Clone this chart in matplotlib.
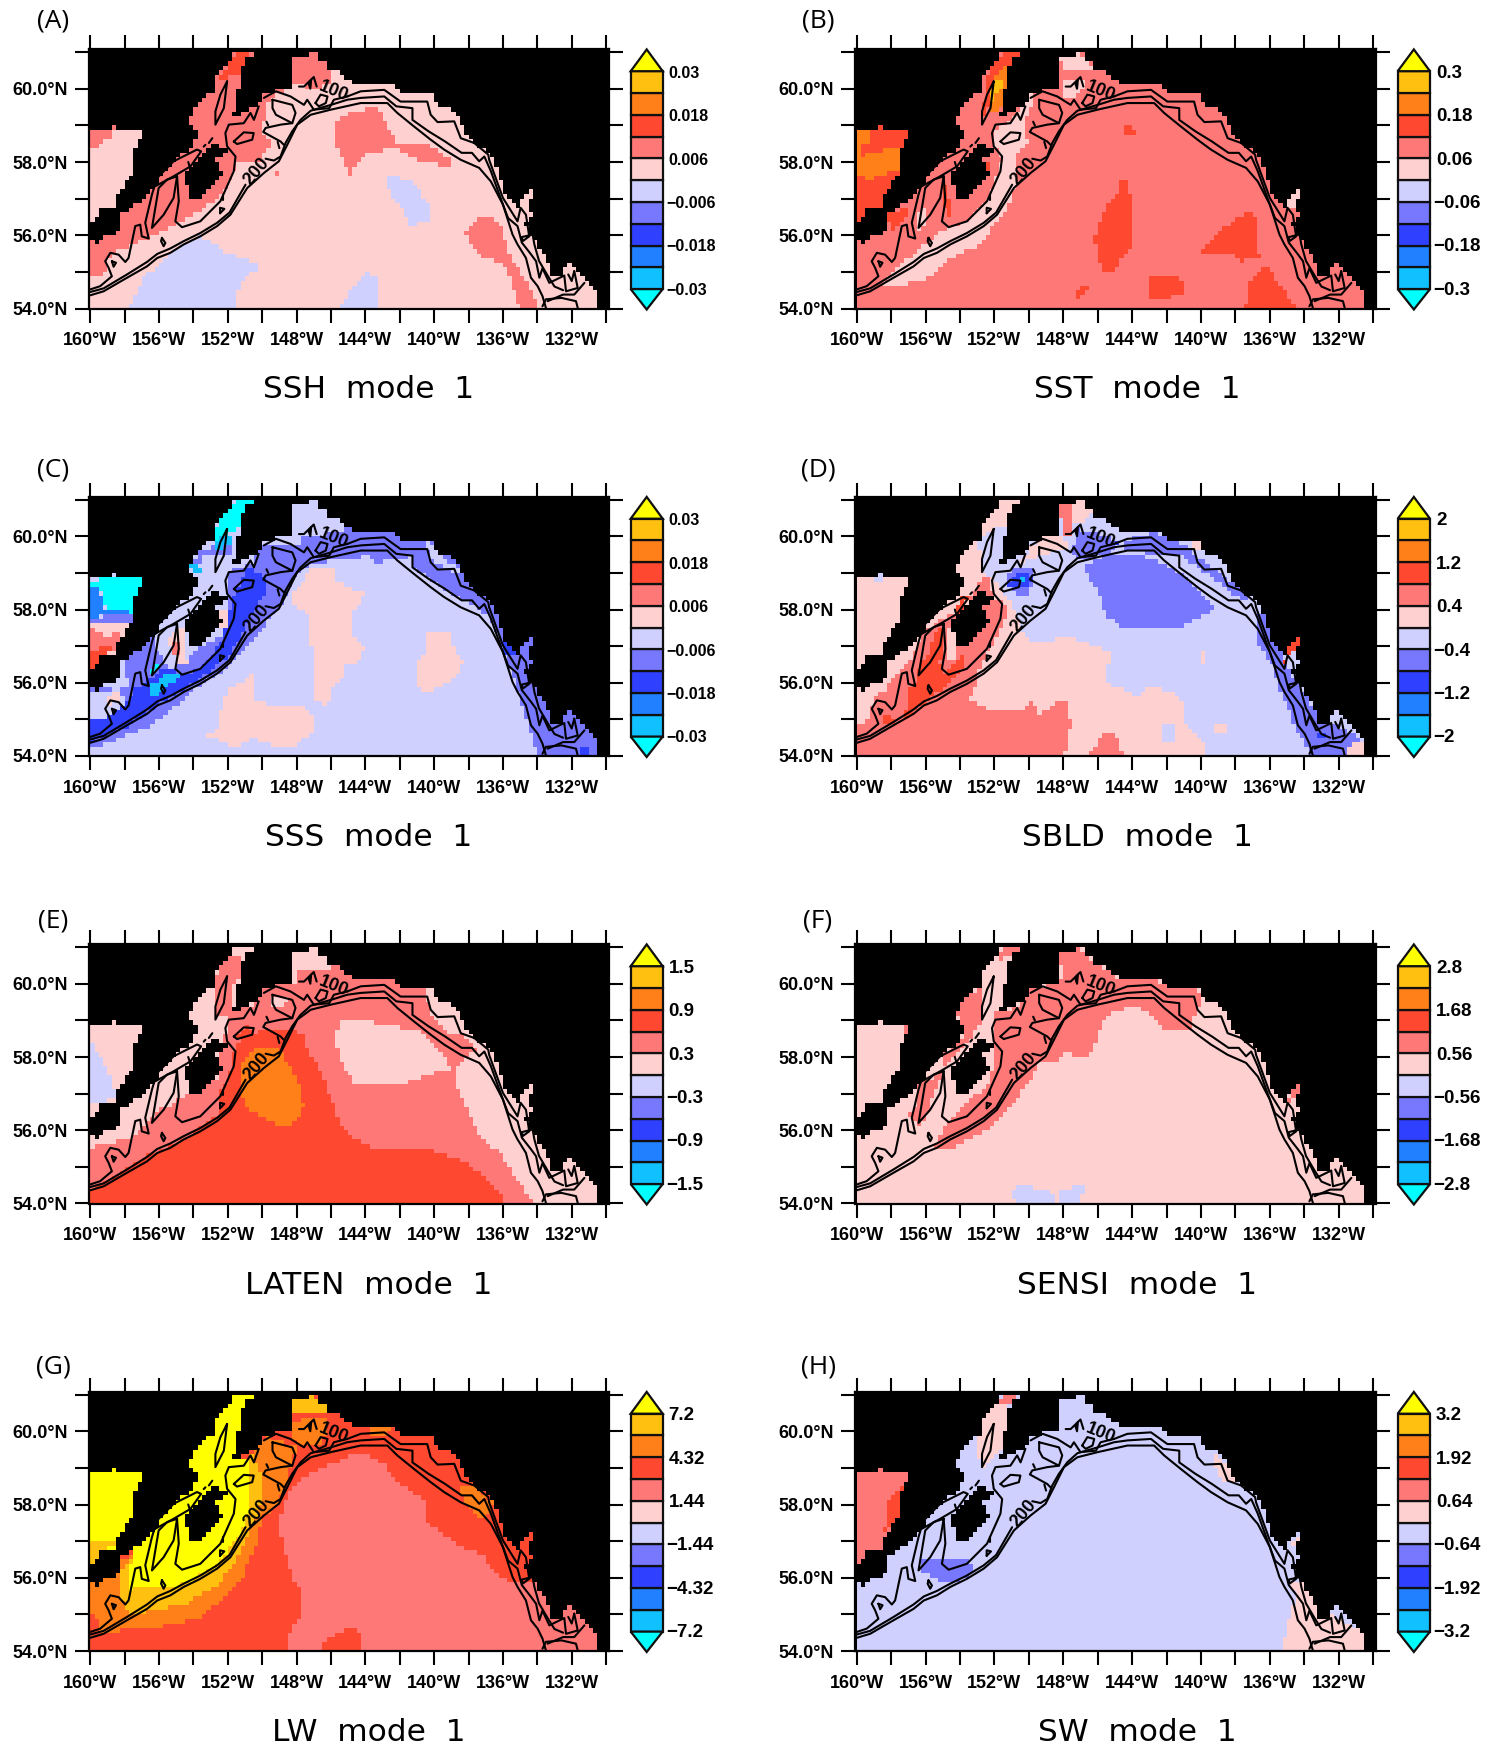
import numpy as np
import matplotlib
matplotlib.use("Agg")
import matplotlib.pyplot as plt
from matplotlib.colors import ListedColormap, BoundaryNorm
from matplotlib.path import Path

W, H = 1502, 1750
COLORS = ['#00ffff', '#10c0ff', '#2080ff', '#3040ff', '#7878ff', '#d0d0ff',
          '#ffd0d0', '#ff7878', '#ff4830', '#ff8018', '#ffc010', '#ffff00']
TICK_LON = [-160, -156, -152, -148, -144, -140, -136, -132]
TICK_LAT = [54, 56, 58, 60]

# ---------- geography (lon, lat) ----------
OCEAN_BRISTOL = [(-160, 58.85), (-158.83, 58.85), (-158.64, 58.97), (-158.35, 58.85), (-156.9, 58.85), (-157.28, 58.56),
                 (-157.48, 58.29), (-157.48, 57.75), (-157.96, 57.38), (-158.45, 57.02), (-158.54, 56.79), (-159.5, 56.7),
                 (-159.5, 56.47), (-160, 56.38)]
OCEAN_MAIN = [(-160, 55.84), (-159.42, 55.79), (-159.13, 55.97), (-158.25, 56.1), (-158.25, 56.56), (-157.09, 56.93),
              (-156.5, 57.1), (-156.2, 57.38), (-155.15, 58.02), (-154.08, 58.38), (-153.7, 58.8), (-154.27, 59.15),
              (-153.7, 59.65), (-152.8, 59.93), (-152.6, 60.38), (-151.85, 60.8), (-151.55, 61), (-150.4, 61),
              (-151.07, 60.8), (-151.26, 60.2), (-151.55, 59.84), (-151.55, 59.43), (-152.04, 59.25), (-150.87, 59.34),
              (-150.1, 59.65), (-149.9, 59.88), (-148.15, 60.06), (-148.15, 60.25), (-148.37, 60.61), (-148.37, 60.93),
              (-147.5, 60.9), (-146.93, 61), (-146.74, 60.84), (-146.15, 60.61), (-146.35, 60.43), (-145.6, 60.55),
              (-145.4, 60.34), (-144.66, 60.2), (-144.4, 60.06), (-143.7, 60.15), (-142.4, 60.1), (-141.95, 59.88),
              (-140, 59.84), (-139.8, 59.56), (-138.8, 59.38), (-138.35, 59.02), (-138.05, 58.65), (-136.8, 58.2),
              (-136.5, 58.06), (-135.9, 57.2), (-135.05, 56.75), (-135.05, 56.93), (-134.27, 57.25), (-134.27, 57.06),
              (-134.66, 56.88), (-134.35, 56.56), (-134.75, 56.34), (-134.35, 55.93), (-134, 55.75), (-133.4, 55.29),
              (-133.3, 54.93), (-132.6, 54.93), (-132.3, 55.25), (-131.4, 54.93), (-131, 54.7), (-130.55, 54.43),
              (-130.55, 54), (-160, 54)]
KODIAK = [(-154.6, 57.56), (-153.6, 58.15), (-152.72, 58.52), (-151.85, 58.27), (-152.7, 58.06), (-152.3, 57.7),
          (-152.9, 57.3), (-154.05, 56.88), (-154.3, 57.25)]
BRISTOL = [(-160, 56.2), (-160, 59.1), (-156.8, 59.1), (-156.8, 58.5), (-158, 56.9), (-159, 56.3)]
DIVIDE = [(-156, 61), (-156.5, 58), (-157.7, 57), (-159, 56.3), (-160, 56.1)]

CONTOURS = [
    [(-160, 54.36), (-159.22, 54.47), (-157.86, 54.84), (-156.7, 55.15), (-156.1, 55.38), (-155.34, 55.52), (-154.56, 55.75),
     (-153.6, 55.97), (-152.62, 56.25), (-151.85, 56.56), (-150.87, 57.29), (-149.9, 57.7), (-149.03, 58.02), (-148.54, 58.47),
     (-147.96, 59.02), (-147.18, 59.29), (-146, 59.43), (-144.27, 59.61), (-142.72, 59.61), (-142.14, 59.34), (-141.17, 58.97),
     (-140.2, 58.61), (-139.42, 58.34), (-138.45, 58.06), (-137.38, 57.84), (-136.7, 57.47), (-136, 56.84), (-135.44, 56.02),
     (-135.15, 55.75), (-134.66, 55.38), (-134.37, 54.84), (-133.98, 54.61), (-133.7, 54.34), (-133.5, 54.02)],
    [(-160, 54.45), (-159.22, 54.55), (-157.86, 54.93), (-156.7, 55.27), (-156.1, 55.49), (-155.34, 55.64), (-154.56, 55.84),
     (-153.6, 56.06), (-152.62, 56.34), (-151.9, 56.62), (-150.97, 57.38)],
    [(-149.8, 58.09), (-149.32, 58.04), (-148.93, 58.15), (-148.64, 58.52), (-148.25, 58.84), (-147.77, 59.15), (-147.18, 59.4),
     (-146, 59.56), (-145.05, 59.7), (-144.27, 59.75), (-142.9, 59.79), (-142.2, 59.52), (-141.26, 59.47), (-141.26, 59.15),
     (-140.33, 58.84), (-139.36, 58.56), (-138.4, 58.25), (-137.8, 58.25), (-137.38, 58.02), (-137.08, 58.15), (-136.7, 57.75),
     (-136.1, 56.97), (-135.7, 56.47), (-135.15, 56.25), (-134.9, 55.8), (-134.4, 55.5), (-134.07, 55.29), (-133.88, 54.84),
     (-133.7, 55.1), (-133.5, 54.9), (-133.3, 54.7), (-132.43, 54.9), (-132.33, 54.47), (-131.65, 54.56), (-131.85, 55.02)],
    [(-145.05, 59.79), (-144.27, 59.93), (-142.9, 59.97), (-141.95, 59.65), (-140.4, 59.65), (-140.2, 59.29), (-139.8, 59.09),
     (-138.83, 59.11), (-138.45, 58.65), (-137.67, 58.52), (-136.85, 58.2), (-136.8, 58.06), (-136, 57.02), (-135.15, 56.38),
     (-134.97, 56.75), (-134.66, 56.56), (-134.47, 55.97), (-134.85, 55.84), (-134.9, 55.95), (-134.27, 56.02), (-134.17, 55.75),
     (-133.9, 55.3), (-133.4, 54.9), (-133, 54.6), (-132.5, 54.5)],
    [(-160, 54.52), (-159.42, 54.61), (-158.74, 54.88), (-158.93, 55.11), (-159.13, 55.29), (-158.83, 55.52), (-158.35, 55.47),
     (-157.96, 55.27), (-157.77, 55.38), (-157.38, 56.25), (-157.09, 56.29), (-157, 55.97), (-156.6, 55.91), (-156.8, 56.34),
     (-156.41, 57.11), (-156.12, 57.56), (-155.15, 58.02), (-153.79, 58.34), (-153.55, 58.29), (-154.17, 57.88), (-155.15, 57.61),
     (-156.21, 57.34)],
    [(-154.95, 57.61), (-155.53, 57.52), (-156.02, 57.29), (-156.41, 56.2), (-155.73, 56.56), (-155.15, 57.02), (-154.95, 57.61)],
    [(-154.95, 57.61), (-154.85, 56.93), (-155.05, 56.38), (-154.66, 56.22), (-153.6, 56.38), (-152.43, 56.93), (-151.65, 57.75),
     (-151.55, 58.15), (-152.04, 58.43), (-152.14, 58.79), (-151.94, 59.02), (-151.07, 59.06), (-150.68, 59.34), (-150.48, 59.15),
     (-150.2, 59.52)],
    [(-149.9, 59.75), (-149.2, 59.93), (-148.35, 59.79), (-147.57, 59.56), (-147.38, 59.7), (-147, 59.43), (-146.1, 59.47),
     (-145.83, 59.7), (-145.05, 59.79)],
    [(-149.4, 59.7), (-148.25, 59.56), (-148.06, 59.34), (-148.25, 59.06), (-149.2, 59.29), (-149.4, 59.47), (-149.4, 59.7)],
    [(-148.25, 59.06), (-148.93, 59.02), (-149.8, 58.93), (-149.94, 58.82), (-148.93, 58.56), (-148.74, 58.47)],
    [(-151.65, 58.56), (-151.07, 58.81), (-150.49, 58.79), (-150.58, 58.61), (-151.46, 58.49), (-151.65, 58.56)],
    [(-152.04, 60.2), (-152.43, 59.84), (-152.72, 59.38), (-152.72, 59.02), (-152.23, 59.47), (-152.04, 60.2)],
    [(-146.9, 59.61), (-146.6, 59.84), (-146.2, 59.79), (-146.3, 59.61), (-146.7, 59.52), (-146.9, 59.61)],
    [(-155.83, 55.93), (-155.63, 55.79), (-155.73, 55.7), (-155.88, 55.84), (-155.83, 55.93)],
    [(-158.74, 55.29), (-158.5, 55.25), (-158.64, 55.14), (-158.74, 55.29)],
    [(-147.86, 60.06), (-147.57, 60.06), (-147, 60.32), (-146.83, 60.06)],
    [(-147.3, 60.15), (-147.15, 60.25), (-147.2, 60.0), (-147.3, 60.15)],
    [(-153.1, 58.52), (-152.9, 58.65)], [(-153.4, 58.42), (-153.3, 58.47)], [(-152.27, 57.1), (-152.27, 56.97)],
    [(-149.1, 58.55), (-149, 58.38)], [(-152.45, 56.6), (-152.2, 56.72), (-152.45, 56.75), (-152.45, 56.6)],
    [(-154.3, 58.0), (-154.2, 57.85)], [(-149.75, 59.1), (-149.65, 59.0)],
    [(-133.7, 54.06), (-133.5, 54.25), (-132.6, 54.29), (-131.75, 54.2), (-131.65, 54.02)],
    [(-133.4, 54.2), (-132.5, 54.38), (-131.85, 54.38), (-131.26, 54.7)],
    [(-132.2, 54.93), (-132, 54.75), (-131.85, 55.02)],
]
CONTOUR_LABELS = [('100', -145.86, 59.93, -22), ('200', -150.33, 57.75, 50)]

# ---------- fields: base level and painted (level, region) ----------
A_SHAPES = [
    (5, [(-157.8, 54), (-156.95, 54.8), (-155.3, 55.52), (-153.5, 55.97), (-152.2, 55.56), (-150, 55.15), (-150.8, 54.93), (-151.55, 54.43), (-151.5, 54)]),
    (5, [(-145.55, 54), (-144.7, 54.6), (-144, 54.97), (-143.33, 54.88), (-143.33, 54)]),
    (5, [(-142.78, 57.65), (-141.4, 57.47), (-140.15, 56.8), (-140.3, 56.43), (-141.4, 56.25), (-141.95, 56.8), (-142.7, 57.25)]),
    (7, [(-160, 54.87), (-159.27, 54.87), (-158.79, 55.5), (-156.96, 55.87), (-156.38, 55.96), (-155.03, 56.28), (-154.07, 56.55), (-152.72, 56.96),
         (-151.75, 57.51), (-151.5, 57.95), (-150.2, 57.96), (-149.44, 58.51), (-150.02, 58.79), (-149.83, 59.24), (-149.63, 59.65), (-148.3, 60.15),
         (-146.74, 59.97), (-146, 60.2), (-146, 61)] + DIVIDE),
    (6, [(-149.45, 59.7), (-148.2, 59.7), (-148.1, 59.05), (-148.9, 59.1), (-149.4, 59.3)]),
    (8, [(-152.7, 60.06), (-152.14, 60.52), (-151.56, 60.98), (-150.6, 61), (-151.1, 60.66), (-151.3, 60.4), (-152.1, 60.3)]),
    (7, [(-160, 58.3), (-159.2, 58.55), (-158.7, 58.75), (-158.5, 59.1), (-160, 59.1)]),
    (7, [(-145.83, 59.06), (-145.83, 58.6), (-144.86, 57.65), (-144.44, 57.97), (-143.9, 58.25), (-142.2, 58.38), (-140.9, 58.06), (-139.03, 57.84),
         (-139.03, 58.06), (-140.28, 58.47), (-142.2, 58.56), (-143.33, 59.52), (-145.28, 59.29)]),
    (7, [(-149.3, 57.75), (-148.9, 57.75), (-149, 57.55)]),
    (7, [(-138.2, 56.15), (-137.5, 56.5), (-136.67, 56.56), (-136.1, 56.25), (-135.7, 55.52), (-134.7, 54.8), (-133.9, 54), (-135, 54), (-135.83, 55.15), (-137.5, 55.52), (-138, 55.8)]),
    (7, [(-140, 60), (-139.6, 60), (-137.6, 58.9), (-137.9, 58.85), (-139, 59.55), (-140, 59.75)]),
    (7, [(-137.1, 58.5), (-136.3, 58.4), (-136.3, 58), (-136.7, 58.3)]),
    (7, [(-135.8, 57.1), (-135.3, 57.15), (-135, 56.75), (-135.4, 56.9)]),
]
B_SHAPES = [
    (6, [(-158.64, 54.61), (-157.67, 54.61), (-155.73, 54.84), (-154.85, 55.29), (-152.82, 55.75), (-152.04, 56.25), (-151.26, 56.75), (-150.78, 57.38),
         (-150.74, 58.11), (-150.1, 58.56), (-150.3, 59.11), (-149.6, 59.65), (-149.9, 59.84), (-150.68, 59.34), (-151.46, 59.02), (-152.04, 58.75),
         (-151.85, 58.34), (-151.55, 58.11), (-152.23, 57.02), (-153.6, 56.38), (-154.75, 56.22), (-155.73, 55.84), (-157, 55.38), (-157.86, 55.02)]),
    (6, [(-156.5, 56.15), (-156.4, 56.65), (-155.9, 56.75), (-156.2, 56.05)]),
    (6, [(-148.35, 60.93), (-147, 60.97), (-146.2, 60.6), (-146.8, 60.43), (-148, 60.56)]),
    (6, [(-148, 60.25), (-146.8, 60.29), (-146.8, 60), (-147.8, 59.65), (-148.05, 60)]),
    (6, [(-135, 56.93), (-134.3, 57.25), (-134.3, 57.06), (-134.8, 56.56)]),
    (8, BRISTOL),
    (9, [(-160, 58.85), (-159.2, 58.85), (-159.2, 58.56), (-159.8, 58.43), (-159.8, 58.15), (-158.05, 58.38), (-157.48, 58.29), (-157.48, 57.75), (-158.45, 57.66), (-159.2, 57.52), (-160, 57.66)]),
    (8, [(-152.55, 60.3), (-151.85, 60.8), (-151.45, 61), (-150.4, 61), (-151.1, 60.7), (-151.3, 60.2), (-152, 60), (-152.4, 59.4), (-152.7, 59.15), (-152.6, 59.8)]),
    (9, [(-152.04, 60.29), (-151.26, 60.65), (-151.26, 60.2), (-151.55, 59.47), (-152.23, 59.38), (-152.04, 60)]),
    (10, [(-152.2, 59.93), (-151.85, 60.29), (-151.36, 60.2), (-151.85, 59.84), (-152.13, 59.65)]),
    (8, [(-158.25, 56.56), (-157.1, 56.74), (-157.1, 56.45), (-158, 56.1)]),
    (8, [(-155, 57), (-154.75, 56.45), (-154.35, 56.45), (-154.85, 57.5)]),
    (8, [(-152.7, 58.02), (-152.1, 58.02), (-152.3, 57.7), (-152.7, 57.84)]),
    (8, [(-144.47, 57.75), (-144.27, 57.29), (-143.88, 56.84), (-143.88, 55.84), (-144.85, 55.2), (-145.24, 54.97), (-145.82, 54.97), (-146, 55.75), (-146.2, 55.84), (-145.9, 56.29), (-145.5, 56.84), (-144.85, 57.2)]),
    (8, [(-139.9, 55.56), (-139.03, 56.1), (-137.3, 56.65), (-136.8, 56.47), (-136.6, 55.38), (-137.67, 55.29), (-138.45, 55.56)]),
    (8, [(-143.1, 54.65), (-142.9, 54.93), (-141.17, 54.88), (-140.97, 54.47), (-141.75, 54.29), (-143, 54.29)]),
    (8, [(-137.4, 54), (-137.1, 54.84), (-136.1, 55.15), (-135.15, 54.47), (-134.4, 54)]),
    (8, [(-147.57, 54.2), (-146.74, 54.65), (-146.3, 54.65), (-146.74, 54.38), (-147.3, 54.2)]),
    (8, [(-144.66, 59.02), (-144.08, 59.02), (-143.7, 58.7), (-144.37, 58.7)]),
]
C_SHAPES = [
    (6, [(-147.07, 59.15), (-145.8, 59.15), (-145.8, 58.79), (-144.06, 58.43), (-144.74, 57.84), (-144.74, 57.29), (-144.06, 56.97), (-144.54, 56.52), (-145.13, 56.47), (-145.13, 56.15),
         (-145.8, 56.02), (-146.2, 55.38), (-146.87, 55.52), (-147.07, 55.93), (-146.97, 56.65), (-147.36, 57.38), (-147.36, 57.84), (-148.23, 58.2), (-148.43, 58.25)]),
    (6, [(-140.47, 57.43), (-139, 57.38), (-138.8, 56.84), (-138.33, 56.56), (-138.43, 56.29), (-139.7, 55.84), (-140.86, 55.75), (-140.95, 56.56), (-140.56, 56.84)]),
    (6, [(-153.57, 54.52), (-152.5, 54.75), (-152.6, 55.02), (-151.92, 55.84), (-150.56, 56.22), (-150.56, 55.56), (-149.4, 55.38), (-147.65, 55.34), (-146.87, 54.93), (-147.07, 54.65),
         (-148.43, 54.2), (-150.17, 54.38), (-150.66, 54.56), (-150.95, 54.38), (-151.73, 54.2), (-152.5, 54.47)]),
    (4, [(-160, 54.2), (-158.9, 54.38), (-157.75, 54.61), (-156.4, 54.84), (-155.2, 55.29), (-153.9, 55.84), (-152.5, 56.25), (-151.53, 56.65), (-150.2, 57.38), (-148.8, 58.15), (-148.2, 58.84),
         (-147.6, 59.15), (-146.1, 59.34), (-143.77, 59.47), (-143.4, 59.29), (-142.6, 59.34), (-141.26, 59.47), (-141.26, 59.15), (-139.4, 58.56), (-137.4, 58.02), (-136.7, 57.75), (-136.1, 57),
         (-135.7, 56.47), (-135, 55.6), (-134.5, 54.8), (-134, 54), (-130, 54), (-130, 61), (-145, 61), (-145.2, 60.2), (-146.6, 60), (-147.6, 60), (-148, 59.7), (-149.8, 59.8), (-150.6, 59.3),
         (-151.9, 59), (-151.9, 58.38), (-152.3, 57.29), (-153.87, 56.93), (-154.45, 56.56), (-155.4, 56.38), (-156.2, 56.93), (-156.4, 57.38), (-157.36, 56.84), (-158.1, 56.47), (-157.75, 55.93), (-159.1, 55.84), (-160, 55.84)]),
    (5, [(-160, 55.75), (-158.3, 55.84), (-157.95, 55.38), (-158.9, 55.02), (-160, 55.02)]),
    (6, [(-159, 55.57), (-158.2, 55.84), (-158.3, 55.57), (-158.9, 55.43)]),
    (3, [(-160, 55.02), (-159.1, 55.02), (-158.14, 55.38), (-157.36, 55.84), (-156.6, 56.1), (-155.8, 56.38), (-154.45, 56.25), (-153.28, 56.47), (-152.2, 57.29), (-151.73, 58.29), (-150.95, 59.1),
         (-150, 59.02), (-149.7, 58.56), (-150.36, 58.06), (-151.14, 57.38), (-151.9, 56.75), (-153.1, 56.3), (-154.45, 55.84), (-156.4, 55.29), (-157.75, 54.84), (-159.1, 54.52), (-160, 54.38)]),
    (1, [(-156.6, 55.84), (-155.6, 56.3), (-154.45, 56.3), (-155.2, 56.02), (-156.4, 55.56)]),
    (0, [(-156.4, 56.3), (-156.1, 56.5), (-156.2, 56.2)]),
    (0, [(-160, 58.75), (-156.87, 59.1), (-157.36, 58.29), (-157.45, 57.93), (-159.1, 58), (-159.2, 58.38), (-159.7, 58.6), (-160, 58.6)]),
    (2, [(-160, 58.6), (-159.5, 58.56), (-159.1, 58), (-157.45, 57.93), (-157.45, 57.8), (-159.3, 57.84), (-160, 57.75)]),
    (4, [(-160, 57.8), (-157.3, 57.85), (-157.3, 57.55), (-160, 57.55)]),
    (6, [(-160, 57.6), (-157.6, 57.65), (-158, 57.2), (-158.5, 56.7), (-160, 56.3)]),
    (7, [(-160, 57.5), (-159.1, 57.25), (-158.1, 57.4), (-158.6, 56.9), (-159.3, 56.7), (-160, 56.3)]),
    (8, [(-160, 56.9), (-158.7, 57), (-159.3, 56.7), (-159.7, 56.4), (-160, 56.3)]),
    (0, [(-152.6, 60.29), (-151.92, 60.75), (-151.34, 61), (-150.37, 61), (-151.15, 60.65), (-151.24, 60.29), (-152.2, 60.02), (-152.8, 59.84)]),
    (4, [(-153.67, 59.56), (-152.8, 59.75), (-151.63, 59.93), (-151.63, 59.52), (-152.5, 59.47), (-153.5, 59.47), (-153.77, 59), (-154.25, 59.15)]),
    (1, [(-152.9, 59.84), (-152.2, 60.02), (-151.6, 59.9), (-152.5, 59.6)]),
    (1, [(-154.25, 59.2), (-153.67, 59.25), (-153.57, 58.97), (-153.96, 59)]),
    (3, [(-136, 57.1), (-135.3, 57.1), (-135.3, 56.75), (-135.9, 56.75)]),
    (3, [(-131.6, 54.2), (-131, 54.2), (-131, 54), (-131.6, 54)]),
    (5, [(-140.47, 59.84), (-139.7, 59.75), (-139.7, 59.47), (-138.9, 59.25), (-138.33, 58.88), (-138.9, 59), (-140.1, 59.38), (-140.47, 59.65)]),
    (6, [(-152.6, 58.02), (-151.92, 58.02), (-152, 57.56), (-152.6, 57.56)]),
    (6, [(-155.5, 57.2), (-154.84, 57.56), (-154.55, 57.47), (-154.35, 56.56), (-155.03, 56.56)]),
    (7, [(-155.3, 57.1), (-154.74, 57.1), (-154.74, 56.75), (-155.13, 56.75)]),
]
D_SHAPES = [
    (6, [(-160, 54), (-139.7, 54), (-139.9, 54.43), (-140.97, 54.93), (-141.17, 55.65), (-143.1, 55.93), (-143.7, 55.65), (-145.63, 56.02), (-145.24, 56.84), (-147.57, 57.25), (-149.9, 57.1),
         (-150.3, 57.34), (-150.87, 58.02), (-151.84, 58.75), (-152.62, 58.93), (-152.23, 59.56), (-152.72, 60.02), (-152, 60.2), (-151.2, 60.3), (-150.4, 61), (-160, 61)]),
    (5, [(-152.7, 60.02), (-151.75, 60.02), (-151.75, 59.52), (-152.3, 59.15), (-152.8, 59), (-152.9, 59.9)]),
    (5, [(-159, 59), (-158.45, 59), (-158.45, 58.75), (-159, 58.75)]),
    (7, [(-160, 54), (-147.96, 54), (-147.57, 54.84), (-147.86, 55.52), (-148.25, 55.56), (-149.4, 55.1), (-149.8, 55.52), (-150.3, 55.3), (-152.23, 55.25), (-153.5, 55.52), (-153.1, 55.93),
         (-153, 56.34), (-152.23, 56.93), (-151.26, 57.93), (-151.46, 58.29), (-152.04, 58.29), (-152.23, 58.84), (-152.7, 58.88), (-153.7, 58.06), (-154.95, 57.75), (-156.2, 57.38), (-156.7, 56.75),
         (-157.48, 56.3), (-157.86, 56.1), (-158.45, 55.75), (-159, 55.65), (-159.4, 54.93), (-160, 54.79)]),
    (6, [(-154.85, 57.47), (-154.3, 57.56), (-154.3, 56.6), (-154.85, 56.6)]),
    (6, [(-160, 55.9), (-158, 56), (-159, 55.5), (-159.6, 54.95), (-160, 54.8)]),
    (8, [(-158.45, 55.15), (-157.96, 55.2), (-157.86, 54.93), (-158.45, 54.88)]),
    (8, [(-157.19, 55.02), (-157, 55.84), (-156.6, 55.97), (-156.4, 56.38), (-155.73, 56.93), (-155.53, 57.38), (-155.05, 57.52), (-154.95, 56.75), (-155.15, 56.56), (-154.95, 56.25), (-153.98, 56.7),
         (-153.7, 56.75), (-153.77, 56.38), (-154.37, 56.1), (-154.75, 55.93), (-156, 55.47), (-157, 55.1)]),
    (8, [(-154, 58.34), (-153.6, 58.38), (-153.7, 57.93), (-154.08, 57.8), (-154.17, 58.06)]),
    (7, [(-148.35, 60.93), (-147.48, 60.84), (-147.38, 60.29), (-147.67, 59.97), (-147.96, 60.02), (-148.06, 60.47), (-148.35, 60.6)]),
    (6, [(-147.48, 60.97), (-146.6, 60.97), (-146.2, 60.65), (-147, 60.38), (-147.57, 60.29)]),
    (6, [(-149.8, 59.75), (-148.93, 60.02), (-147.96, 60.02), (-147.76, 59.7), (-150.4, 59.3)]),
    (6, [(-140.4, 59.84), (-139.8, 59.79), (-139.8, 59.6), (-140.4, 59.6)]),
    (6, [(-140.1, 56.84), (-139.7, 56.84), (-139.7, 56.52), (-140.1, 56.52)]),
    (6, [(-139.13, 54.84), (-138.54, 54.84), (-138.54, 54.65), (-139.13, 54.65)]),
    (5, [(-142.33, 54.93), (-141.46, 54.79), (-141.56, 54.34), (-142.33, 54.34)]),
    (7, [(-146.5, 54), (-145.63, 54.64), (-144.95, 54.64), (-144.56, 54)]),
    (4, [(-146.8, 59.15), (-145.73, 58.29), (-145.53, 57.84), (-144.66, 57.56), (-140.97, 57.56), (-139.22, 58.02), (-140.2, 58.56), (-141.26, 59.02), (-142.43, 59.29), (-144.08, 59.56), (-145.9, 59.43)]),
    (4, [(-144.4, 59.9), (-142.6, 60.1), (-141, 59.75), (-137.5, 58.5), (-137.1, 58.3), (-137.5, 58.2), (-140, 59.1), (-141.2, 59.5), (-144.4, 59.6)]),
    (4, [(-147.2, 60.2), (-146.4, 60.1), (-144.9, 59.9), (-145, 59.6), (-147, 59.35), (-147.5, 59.5)]),
    (3, [(-145.1, 59.9), (-144.7, 59.9), (-144.7, 59.8), (-145.1, 59.8)]),
    (4, [(-151.36, 58.84), (-150.87, 59.11), (-149.9, 59.2), (-149.7, 58.75), (-150.3, 58.29), (-150.87, 58.47)]),
    (3, [(-150.87, 58.93), (-150.1, 59.06), (-149.8, 58.84), (-150.3, 58.56), (-151.26, 58.61)]),
    (1, [(-150.4, 58.9), (-150.15, 58.9), (-150.15, 58.75), (-150.4, 58.75)]),
    (4, [(-136.9, 57.65), (-136.5, 57.93), (-135.5, 57.02), (-135.15, 56.56), (-134.27, 55.93), (-133.4, 55.2), (-130.68, 54.47), (-130.68, 54), (-133.6, 54), (-134.56, 54.84), (-135.34, 55.75), (-135.9, 56.47), (-136.7, 57.1)]),
    (3, [(-133.2, 54.6), (-132.7, 54.6), (-132.7, 54.45), (-133.2, 54.45)]),
    (6, [(-131.3, 54.33), (-130.55, 54.43), (-130.55, 54), (-131.5, 54)]),
    (8, [(-135.05, 56.93), (-134.27, 57.25), (-134.27, 57.06), (-134.85, 56.75), (-134.95, 56.56), (-135.15, 56.56)]),
]
E_SHAPES = [
    (7, [(-160, 54), (-160, 55.55), (-157.75, 55.75), (-156.3, 56.47), (-155.03, 56.75), (-154.45, 57), (-152.6, 57.38), (-152.5, 58.1), (-152.1, 58.65), (-151.9, 59.25), (-150.56, 59.38), (-149.8, 59.93),
         (-148.04, 60.06), (-147.84, 60.38), (-146.1, 60.38), (-145.8, 60.52), (-144.93, 60.2), (-143.77, 60.15), (-142.3, 60.06), (-140.47, 59.84), (-140.27, 59.2), (-139.3, 58.65), (-138.33, 58.65), (-137.55, 58.2),
         (-138.33, 57.88), (-138.72, 57.7), (-138.62, 57.11), (-138.04, 56.47), (-137.36, 55.84), (-136.2, 55.38), (-134.65, 54.29), (-134.2, 54)]),
    (6, [(-145.8, 58.65), (-145.33, 58.97), (-143.97, 59.06), (-143, 58.84), (-141.05, 58.79), (-139.9, 58.29), (-138.9, 57.65), (-140.08, 57.56), (-141.63, 57.29), (-144.54, 57.2), (-145.13, 57.65), (-145.5, 58.02)]),
    (6, [(-149.5, 59.65), (-148.43, 59.56), (-148.8, 59.38), (-149.3, 59.29)]),
    (8, [(-160, 54.38), (-158.9, 54.65), (-156.4, 55.38), (-154.5, 55.75), (-152.5, 56.47), (-152.5, 57.02), (-152.1, 57.2), (-151.73, 57.93), (-151.34, 58.47), (-150, 58.75), (-148.43, 58.75), (-147.55, 58.65),
         (-147.36, 58.2), (-146.87, 57.84), (-146, 56.93), (-145.6, 56.29), (-144.93, 55.84), (-143.57, 55.52), (-140.27, 55.47), (-138.72, 55.25), (-137.6, 54.93), (-136.1, 54.2), (-136.1, 54), (-160, 54)]),
    (8, [(-151.53, 58.56), (-150.95, 58.82), (-150.47, 58.79), (-150.56, 58.61), (-151.44, 58.49)]),
    (9, [(-151.15, 57.84), (-150.56, 58.2), (-149.2, 58.29), (-148.8, 58.02), (-148.5, 57.84), (-147.85, 57.2), (-147.55, 56.65), (-147.85, 56.38), (-148.43, 56.15), (-149, 56.15), (-150.17, 56.38), (-150.95, 56.65), (-151.34, 57.2)]),
    (5, [(-160, 58.38), (-159.5, 58.11), (-158.72, 57.38), (-158.52, 56.93), (-159.1, 56.75), (-160, 56.75)]),
    (7, [(-152.6, 60.29), (-152, 60.7), (-151.15, 60.75), (-151.15, 60.25), (-151.73, 59.93), (-151.73, 59.3), (-152.6, 59.02), (-152.8, 59.65)]),
]
F_SHAPES = [
    (7, [(-155.44, 55.56), (-154.17, 55.56), (-153.4, 55.79), (-152.23, 56.1), (-150.87, 56.75), (-149.9, 57.38), (-149.3, 57.93), (-148.35, 57.93), (-147.77, 58.15), (-147.38, 57.97), (-146.5, 58.06), (-146.2, 58.29),
         (-145.92, 58.65), (-145.44, 59.15), (-144.27, 59.38), (-143.6, 59.34), (-142.52, 59.02), (-142.33, 58.79), (-140.58, 58.79), (-140.2, 59.38), (-139.8, 59.65), (-140.4, 59.84), (-142.43, 60.06), (-143.88, 60.15),
         (-144.85, 60.1), (-145.44, 60.38), (-145.92, 60.52), (-146.3, 60.43), (-146.2, 60.56), (-147, 61), (-148.35, 60.93), (-148.4, 60.6), (-148, 60.38), (-148.15, 60.06), (-149.9, 59.84), (-150.68, 59.34), (-152.04, 59.25),
         (-151.9, 58.3), (-152.2, 57.4), (-153.8, 56.6), (-154.7, 56.25)]),
    (7, [(-156.9, 56.43), (-156.4, 56.15), (-155.92, 56.38), (-155.63, 56.93), (-154.95, 57.56), (-155.15, 58.02), (-153.98, 58.38), (-153.7, 58.79), (-154.27, 59.2), (-153.7, 59.65), (-152.8, 59.84), (-152.72, 59.02),
         (-153.4, 58.47), (-155.73, 57.38), (-156.4, 57.29), (-156.6, 56.65)]),
    (7, [(-151.85, 60.6), (-151.55, 61), (-150.4, 61), (-151.07, 60.75)]),
    (5, [(-151.17, 54.43), (-150, 54.45), (-149.22, 54.38), (-148.55, 54.25), (-148.45, 54), (-150.78, 54), (-151.07, 54.2)]),
    (5, [(-148.15, 54.43), (-146.7, 54.45), (-147, 54.15), (-147, 54), (-148.15, 54)]),
    (7, [(-135.05, 56.84), (-134.27, 57.25), (-134.27, 57.06), (-134.75, 56.75)]),
    (7, [(-157.3, 58.9), (-156.9, 58.9), (-156.9, 58.65), (-157.2, 58.65)]),
]
G_SHAPES = [
    (7, [(-148.43, 54), (-148.53, 54.43), (-147.65, 55.02), (-147.65, 55.56), (-148.04, 55.84), (-148.53, 56.38), (-148.62, 56.65), (-149, 57.38), (-148.9, 57.65), (-148.43, 58.38), (-147.84, 58.65), (-146.3, 59.06),
         (-144.74, 59.34), (-143.77, 59.34), (-143, 59.15), (-142.02, 58.56), (-140.27, 58.02), (-140.66, 57.79), (-140.27, 57.47), (-138.33, 56.84), (-137.2, 56.65), (-136.3, 56.02), (-135.34, 55.84), (-134.5, 55.93),
         (-134.1, 55.84), (-133.33, 55.29), (-132.7, 54.93), (-132.2, 55.25), (-131.15, 54.93), (-130.4, 54.47), (-130.4, 54)]),
    (8, [(-146.45, 54), (-146.4, 54.29), (-144.78, 54.65), (-144.3, 54.47), (-144.3, 54)]),
    (9, [(-160, 54.47), (-158.33, 54.56), (-155.42, 54.7), (-153.57, 54.93), (-152.4, 55.38), (-151.34, 55.84), (-150.37, 56.84), (-150, 57.65), (-149, 58.02), (-148.62, 58.56), (-148.3, 59.1), (-148, 59.56), (-149.8, 59.84),
         (-150.5, 59.47), (-150.66, 58.56), (-154.45, 57.56), (-157.75, 56.56), (-158.33, 56.56), (-158.43, 56.02), (-160, 55.84)]),
    (8, [(-160, 55), (-159.4, 54.9), (-159.5, 54.5), (-160, 54.4)]),
    (9, [(-148.1, 60.3), (-146.9, 60.34), (-146.1, 60.38), (-146.3, 59.93), (-146.7, 59.56), (-148.04, 59.61), (-148.24, 60.02)]),
    (9, [(-143.8, 60.1), (-142.3, 60.06), (-142.8, 59.88), (-143.8, 59.93)]),
    (10, [(-148.4, 60.93), (-147.84, 60.97), (-147.07, 61), (-146.2, 60.65), (-146.2, 60.47), (-147.84, 60.47), (-148.4, 60.6)]),
    (9, [(-138.5, 58.52), (-137.85, 58.56), (-137.03, 58.25), (-136.6, 58.06), (-137, 57.56), (-137.95, 57.84), (-138.45, 58.25)]),
    (10, [(-157.75, 54.93), (-156.4, 55.11), (-154.45, 55.29), (-152.5, 55.84), (-151.53, 56.47), (-150.75, 57.2), (-150, 58.1), (-150, 58.75), (-150.56, 59.38), (-154.45, 57.56), (-157.75, 56.47), (-158.33, 56.1), (-158.14, 55.38)]),
    (11, [(-157.8, 55.38), (-157.55, 55.75), (-156.2, 55.7), (-154.35, 55.84), (-152.5, 56.43), (-151.73, 56.93), (-150.95, 57.47), (-150.66, 58.47), (-150.76, 59.29), (-151.4, 59.3), (-151, 60.34), (-150.37, 61), (-151.92, 61),
          (-152.9, 60.11), (-154.45, 59.65), (-154.45, 58.47), (-157.45, 56.84), (-157.75, 56.1), (-157.65, 55.56)]),
    (11, BRISTOL),
    (10, [(-160, 57), (-158.7, 57.06), (-158.52, 56.93), (-159.1, 56.75), (-159.5, 56.47), (-160, 56.38)]),
]
H_SHAPES = [
    (7, BRISTOL),
    (8, [(-158.25, 58.06), (-157.2, 58.6), (-157.48, 58.29), (-157.48, 57.75), (-157.96, 57.38), (-158.54, 57.2), (-158.25, 57.56)]),
    (6, [(-153.1, 59.65), (-152.62, 60.38), (-151.85, 60.84), (-151.26, 60.75), (-151.26, 60.2), (-151.55, 59.47), (-152.23, 59.2), (-152.43, 59.02), (-152.82, 59.1)]),
    (7, [(-151.85, 60.7), (-151.45, 61), (-150.4, 61), (-151.07, 60.84), (-151.26, 60.7)]),
    (4, [(-156.2, 56.43), (-155.63, 56.56), (-153.7, 56.56), (-153.1, 56.25), (-153.7, 55.97), (-154.56, 55.88), (-155.53, 55.97), (-156.2, 56.15)]),
    (6, [(-135.34, 54), (-135.34, 54.34), (-134.95, 54.47), (-134.95, 54.84), (-134.56, 55.29), (-134.66, 55.84), (-134.27, 55.97), (-133.4, 55.29), (-130.55, 54.47), (-130.55, 54)]),
    (6, [(-139.13, 59.34), (-138.54, 59.15), (-137.86, 58.65), (-138.45, 58.61), (-138.93, 58.75), (-139.13, 59.02)]),
    (6, [(-134.75, 56.93), (-134.27, 57.25), (-134.27, 57.06), (-134.66, 56.88)]),
]

PANELS = ['(A)', '(B)', '(C)', '(D)', '(E)', '(F)', '(G)', '(H)']
PANEL_Y = [21, 470, 921, 1367]
TITLES = ['SSH  mode  1', 'SST  mode  1', 'SSS  mode  1', 'SBLD  mode  1',
          'LATEN  mode  1', 'SENSI  mode  1', 'LW  mode  1', 'SW  mode  1']
BASES = [6, 7, 5, 5, 6, 6, 8, 5]
SHAPES = [A_SHAPES, B_SHAPES, C_SHAPES, D_SHAPES, E_SHAPES, F_SHAPES, G_SHAPES, H_SHAPES]
CBAR_LABELS = [
    ['0.03', '0.018', '0.006', '\u22120.006', '\u22120.018', '\u22120.03'],
    ['0.3', '0.18', '0.06', '\u22120.06', '\u22120.18', '\u22120.3'],
    ['0.03', '0.018', '0.006', '\u22120.006', '\u22120.018', '\u22120.03'],
    ['2', '1.2', '0.4', '\u22120.4', '\u22121.2', '\u22122'],
    ['1.5', '0.9', '0.3', '\u22120.3', '\u22120.9', '\u22121.5'],
    ['2.8', '1.68', '0.56', '\u22120.56', '\u22121.68', '\u22122.8'],
    ['7.2', '4.32', '1.44', '\u22121.44', '\u22124.32', '\u22127.2'],
    ['3.2', '1.92', '0.64', '\u22120.64', '\u22121.92', '\u22123.2'],
]
CBAR_POS = [10, 8, 6, 4, 2, 0]   # box boundary of each label, counted from the lowest box

# ---------- drawing ----------
plt.rcParams['font.family'] = ['Liberation Sans']
cmap = ListedColormap(COLORS)
norm = BoundaryNorm(np.arange(-0.5, 12.5), 12)
lon_e = np.arange(-160, -129.99, 0.25)
lat_e = np.arange(54, 61.01, 0.125)
LON, LAT = np.meshgrid(0.5 * (lon_e[:-1] + lon_e[1:]), 0.5 * (lat_e[:-1] + lat_e[1:]))
pts = np.column_stack([LON.ravel(), LAT.ravel()])


def inside(poly):
    return Path(list(poly) + [poly[0]]).contains_points(pts).reshape(LON.shape)


ocean = (inside(OCEAN_MAIN) | inside(OCEAN_BRISTOL)) & ~inside(KODIAK)

fig = plt.figure(figsize=(W / 100, H / 100), dpi=100, facecolor='white')


def axes_px(x0, x1, top, bottom):
    return fig.add_axes([x0 / W, 1 - bottom / H, (x1 - x0) / W, (bottom - top) / H])


for i in range(8):
    col, row = i % 2, i // 2
    x0, x1 = (88.5, 609) if col == 0 else (855, 1376)
    bottom = 308.5 + 447.5 * row
    top = bottom - 259.3
    ax = axes_px(x0, x1, top, bottom)
    ax.set_facecolor('black')

    field = np.full(LON.shape, float(BASES[i]))
    for level, poly in SHAPES[i]:
        field[inside(poly)] = level
    ax.pcolormesh(lon_e, lat_e, np.ma.masked_where(~ocean, field), cmap=cmap, norm=norm,
                  shading='flat', rasterized=True)
    for line in CONTOURS:
        a = np.array(line)
        ax.plot(a[:, 0], a[:, 1], color='black', lw=1.5, solid_joinstyle='round', solid_capstyle='round')
    for text, lo, la, rot in CONTOUR_LABELS:
        ax.text(lo, la, text, fontsize=13, fontweight='bold', rotation=rot, ha='center', va='center',
                rotation_mode='anchor', color='black')

    ax.set_xlim(-160.1, -129.83)
    ax.set_ylim(54, 61.08)
    xt = np.arange(-160, -129, 2)
    yt = np.arange(54, 62, 1)
    ax.set_xticks(xt)
    ax.set_yticks(yt)
    ax.set_xticklabels([f'{-v}\u00b0W' if v in TICK_LON else '' for v in xt], fontweight='bold', fontsize=13)
    ax.set_yticklabels([f'{v}.0\u00b0N' if v in TICK_LAT else '' for v in yt], fontweight='bold', fontsize=13)
    ax.tick_params(axis='both', which='major', length=10, width=1.5, direction='out', top=True, right=True)
    ax.tick_params(axis='x', pad=7)
    ax.tick_params(axis='y', pad=5)
    for s in ax.spines.values():
        s.set_linewidth(1.6)

    # colour bar
    cx0, cx1 = (630.7, 662.7) if col == 0 else (1397.7, 1430)
    cax = axes_px(cx0 - 2, cx1 + 2, top + 0.2, bottom + 1)
    cax.axis('off')
    cax.set_xlim(-2 / (cx1 - cx0), 1 + 2 / (cx1 - cx0))
    unit = 21.7
    cax.set_ylim(-20.3 / unit, 10 + 21.7 / unit)
    cax.bar(np.full(10, 0.5), np.ones(10), width=1.0, bottom=np.arange(10), color=COLORS[1:11],
            edgecolor='#101010', linewidth=1.6)
    cax.fill([0, 1, 0.5], [0, 0, -20.3 / unit], facecolor=COLORS[0], edgecolor='#101010', linewidth=1.6, clip_on=False)
    cax.fill([0, 1, 0.5], [10, 10, 10 + 21.7 / unit], facecolor=COLORS[11], edgecolor='#101010', linewidth=1.6, clip_on=False)
    fs = 11.5 if i in (0, 2) else 13.5
    for lab, pos in zip(CBAR_LABELS[i], CBAR_POS):
        yy = (bottom - 18.2) - pos * unit
        xx = cx1 + (3.5 if lab.startswith('\u2212') else 6)
        fig.text(xx / W, 1 - yy / H, lab, fontsize=fs, fontweight='bold', ha='left', va='center')

    tx = 369 if col == 0 else 1137
    ty = 390 + 447.5 * row
    fig.text(tx / W, 1 - ty / H, TITLES[i], fontsize=22.5, family='DejaVu Sans', ha='center', va='center')
    lx = 53 if col == 0 else 818
    fig.text(lx / W, 1 - PANEL_Y[row] / H, PANELS[i], fontsize=19, family='Open Sans', ha='center', va='center')

fig.savefig('out.png', dpi=100)
